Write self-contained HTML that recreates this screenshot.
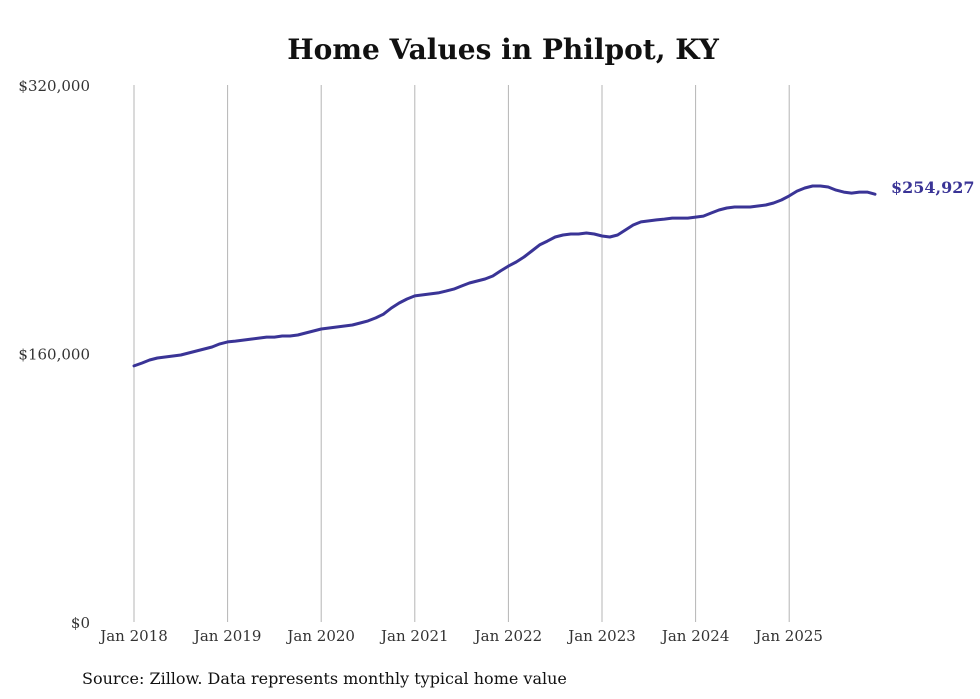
<!DOCTYPE html>
<html><head><meta charset="utf-8"><style>
html,body{margin:0;padding:0;background:#fff;}
svg{display:block;}
text{font-family:"DejaVu Serif","Liberation Serif",serif;}
</style></head><body>
<svg id="chart" width="980" height="699">
<text x="503" y="59" text-anchor="middle" font-size="28" font-weight="bold" fill="#111">Home Values in Philpot, KY</text>
<g id="grid"></g><g id="yaxis"></g><g id="xaxis"></g>
<path id="line" fill="none" stroke="#3a3496" stroke-width="3" stroke-linejoin="round" stroke-linecap="round"/>
<text id="endlabel" font-size="16" font-weight="bold" fill="#3a3496"></text>
<text x="82" y="684" font-size="16" fill="#111">Source: Zillow. Data represents monthly typical home value</text>
</svg>
<script>
const startYear = 2018;
const xTickLabels = ["Jan 2018","Jan 2019","Jan 2020","Jan 2021","Jan 2022","Jan 2023","Jan 2024","Jan 2025"];
const yTicks = [0,160000,320000];
const yTickLabels = ["$0","$160,000","$320,000"];
const valuesK = [
152.6,154.3,156.1,157.3,157.9,158.5,159.1,160.3,161.5,162.7,163.9,165.7,
166.9,167.4,168.0,168.6,169.2,169.8,169.8,170.4,170.4,171.0,172.2,173.4,
174.6,175.2,175.8,176.4,177.0,178.2,179.4,181.2,183.5,187.1,190.1,192.5,
194.3,194.9,195.5,196.1,197.2,198.4,200.2,202.0,203.2,204.4,206.2,209.2,
212.1,214.5,217.5,221.1,224.7,227.0,229.4,230.6,231.2,231.2,231.8,231.2,
230.0,229.4,230.6,233.6,236.6,238.4,239.0,239.6,240.1,240.7,240.7,240.7,
241.3,241.9,243.7,245.5,246.7,247.3,247.3,247.3,247.9,248.5,249.7,251.5,
253.9,256.8,258.6,259.8,259.8,259.2,257.4,256.2,255.6,256.2,256.2,254.927
];
const lastLabel = "$254,927";
const NS="http://www.w3.org/2000/svg";
const x0=134, perYear=93.6, yTop=85, yBot=622, yMax=320000;
const X=i=>x0+i*perYear/12;
const Y=v=>yBot-(v/yMax)*(yBot-yTop);
function mk(tag,attrs,parent,txt){const e=document.createElementNS(NS,tag);for(const k in attrs)e.setAttribute(k,attrs[k]);if(txt!==undefined)e.textContent=txt;parent.appendChild(e);return e;}
const grid=document.getElementById('grid'),xa=document.getElementById('xaxis'),ya=document.getElementById('yaxis');
xTickLabels.forEach((l,i)=>{
 const x=X(i*12);
 const g=mk('line',{x1:x,x2:x,y1:yTop,y2:yBot,stroke:'#b5b5b5','stroke-width':1},grid);
 
 
 const t=mk('text',{x:x,y:641,'text-anchor':'middle','font-size':15,fill:'#333'},xa,l);
 
 
});
yTicks.forEach((v,i)=>{
 const t=mk('text',{x:90,y:Y(v)+6,'text-anchor':'end','font-size':15,fill:'#333'},ya,yTickLabels[i]);
 
 
});
let d='';
valuesK.forEach((v,i)=>{d+=(i?'L':'M')+X(i).toFixed(1)+','+Y(v*1000).toFixed(1);});
document.getElementById('line').setAttribute('d',d);
const li=valuesK.length-1;
const el=document.getElementById('endlabel');
el.setAttribute('x',X(li)+16);
el.setAttribute('y',Y(valuesK[li]*1000)-1);
el.textContent=lastLabel;
</script>
</body></html>
